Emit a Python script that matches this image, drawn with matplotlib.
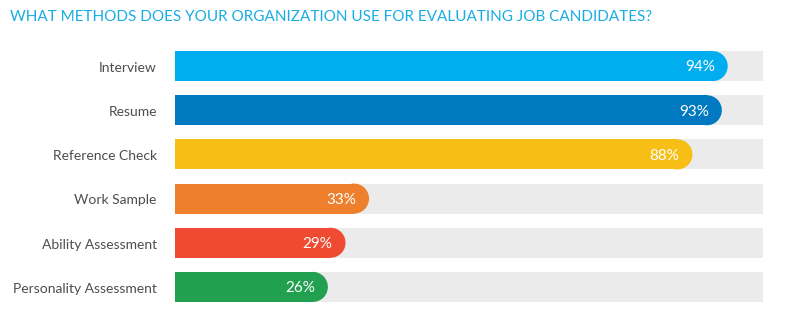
import matplotlib.pyplot as plt
from matplotlib.patches import Ellipse

categories = ['Interview', 'Resume', 'Reference Check', 'Work Sample',
              'Ability Assessment', 'Personality Assessment']
values = [94, 93, 88, 33, 29, 26]
colors = ['#00AEEF', '#0079C1', '#F7BE16', '#EE7F2D', '#EF4B32', '#21A04F']
title = 'WHAT METHODS DOES YOUR ORGANIZATION USE FOR EVALUATING JOB CANDIDATES?'

plt.rcParams['font.family'] = ['Lato', 'DejaVu Sans']

W, H = 785, 323
fig = plt.figure(figsize=(W / 100, H / 100), dpi=100)
ax_left, ax_right = 175, 763
ax_top, ax_bot = 44, 309
ax = fig.add_axes([ax_left / W, (H - ax_bot) / H, (ax_right - ax_left) / W, (ax_bot - ax_top) / H])

bar_h = 0.68
ax.set_xlim(0, 100)
ax.set_ylim(len(categories) - 0.5, -0.5)

# radius of the rounded end, in data units
px_per_y = (ax_bot - ax_top) / len(categories)
px_per_x = (ax_right - ax_left) / 100
r = bar_h * px_per_y / 2 / px_per_x

for i, (cat, v, c) in enumerate(zip(categories, values, colors)):
    ax.barh(i, 100, height=bar_h, color='#EBEBEB', zorder=1)
    ax.barh(i, v - r, height=bar_h, color=c, zorder=2)
    ax.add_patch(Ellipse((v - r, i), 2 * r, bar_h, color=c, zorder=2, lw=0))
    ax.text(v - 2.2, i + 0.03, f'{v}%', color='white', fontsize=11, ha='right', va='center', zorder=3)
    ax.text(-3.1, i + 0.04, cat, color='#4D4D4D', fontsize=10, ha='right', va='center')

ax.axis('off')
fig.text(10 / W, 1 - 17 / H, title, color='#1AADE4', fontsize=11, ha='left', va='center')

fig.savefig('out.png', dpi=100)
